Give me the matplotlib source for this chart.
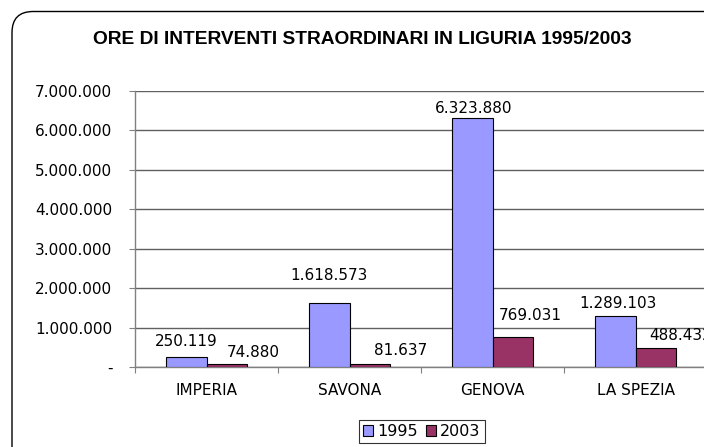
import matplotlib
matplotlib.use("Agg")
import matplotlib.pyplot as plt
import numpy as np
from matplotlib.patches import FancyBboxPatch, Patch
from matplotlib.ticker import FuncFormatter, FixedLocator

# ---- data ----
categories = ["IMPERIA", "SAVONA", "GENOVA", "LA SPEZIA"]
series_names = ["1995", "2003"]
values_1995 = [250119, 1618573, 6323880, 1289103]
values_2003 = [74880, 81637, 769031, 488432]
title = "ORE DI INTERVENTI STRAORDINARI IN LIGURIA 1995/2003"
y_ticks = [0, 1000000, 2000000, 3000000, 4000000, 5000000, 6000000, 7000000]

# ---- style ----
colors = ["#9999FF", "#993366"]
# label offsets (pixels): dx from bar centre, dy of label centre above bar top
label_dx = [[0, 0, 2, 3], [26, 31, 17, 25]]
label_dy = [[16, 28, 9, 13], [12, 13, 21, 12]]

W, H = 704, 447
fig = plt.figure(figsize=(W / 100, H / 100), dpi=100)
fig.patch.set_facecolor("white")

# rounded border of the chart area (extends past right/bottom edge)
border = FancyBboxPatch((12 / W, -0.2), 1.2, 1 - 11.5 / H + 0.2,
                        boxstyle="round,pad=0,rounding_size=0.03",
                        transform=fig.transFigure, facecolor="none",
                        edgecolor="black", linewidth=1.0, mutation_aspect=W / H)
fig.patches.append(border)

ax = fig.add_axes([135 / W, 80 / H, 572 / W, 276 / H])
ax.set_facecolor("white")

x = np.arange(len(categories))
bw = 1 / 3.5
for s, vals in enumerate([values_1995, values_2003]):
    xs = x - bw / 2 + s * bw
    ax.bar(xs, vals, width=bw, color=colors[s], edgecolor="black", linewidth=0.8, zorder=3)
    for i, v in enumerate(vals):
        lab = f"{v:,}".replace(",", ".")
        ax.annotate(lab, (xs[i], v), xytext=(label_dx[s][i], label_dy[s][i]),
                    textcoords="offset pixels", ha="center", va="center",
                    fontsize=11, family="DejaVu Sans", color="black", zorder=4)

ax.set_xlim(-0.5, len(categories) - 0.5)
ax.set_ylim(0, 7000000)

ax.yaxis.set_major_locator(FixedLocator(y_ticks))
ax.yaxis.set_major_formatter(FuncFormatter(lambda v, p: "-" if v == 0 else f"{int(v):,}".replace(",", ".")))
ax.grid(axis="y", color="#606060", linewidth=1.0, zorder=0)
ax.set_axisbelow(True)

ax.set_xticks(x)
ax.set_xticklabels(categories)
ax.xaxis.set_minor_locator(FixedLocator(np.arange(-0.5, len(categories), 1.0)))
ax.tick_params(axis="x", which="major", length=0, pad=11.5, labelsize=11)
ax.tick_params(axis="x", which="minor", length=4.3, width=0.8, color="#808080", direction="out")
ax.tick_params(axis="y", which="major", length=4.3, width=0.8, color="#808080",
               direction="out", pad=12, labelsize=11)

for side in ["top", "right"]:
    ax.spines[side].set_visible(False)
ax.spines["left"].set_color("#808080")
ax.spines["bottom"].set_color("#808080")
ax.spines["left"].set_linewidth(1.0)
ax.spines["bottom"].set_linewidth(1.0)

fig.text(362 / W, 1 - 40 / H, title, ha="center", va="center",
         fontsize=13.8, fontweight="bold", family="Liberation Sans")

handles = [Patch(facecolor=colors[i], edgecolor="black", linewidth=0.8, label=series_names[i]) for i in range(2)]
leg = fig.legend(handles=handles, loc="upper left", bbox_to_anchor=(359 / W, 1 - 420 / H),
                 ncol=2, frameon=True, fancybox=False, fontsize=11.5,
                 handlelength=0.65, handleheight=0.65, handletextpad=0.25,
                 columnspacing=0.5, borderpad=0.25, borderaxespad=0)
leg.get_frame().set_edgecolor("black")
leg.get_frame().set_linewidth(0.8)

fig.savefig("out.png", dpi=100, facecolor="white")
